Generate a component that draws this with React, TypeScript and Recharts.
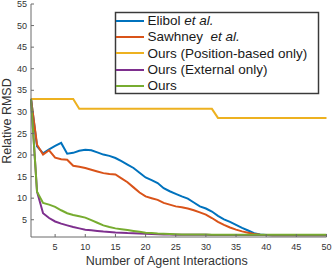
import React from 'react';
import { LineChart, Line, XAxis, YAxis, Legend, Customized } from 'recharts';

const interactions = [
  1, 2, 3, 4, 5, 6, 7, 8, 9, 10, 11, 12, 13, 14, 15, 16, 17, 18, 19, 20, 21, 22, 23, 24, 25,
  26, 27, 28, 29, 30, 31, 32, 33, 34, 35, 36, 37, 38, 39, 40, 41, 42, 43, 44, 45, 46, 47, 48, 49, 50,
];

const elibol = [
  33, 22, 20.4, 21.3, 22.1, 22.8, 20.3, 20.5, 21, 21.2, 21.1, 20.6, 20.1, 19.8, 19.3, 18.6, 17.8, 17.0, 15.9, 14.8,
  14.2, 13.5, 12.3, 11.6, 11.0, 10.4, 9.9, 9.0, 8.1, 7.6, 6.9, 5.9, 5.1, 4.5, 3.8, 3.1, 2.5, 1.9, 1.6, 1.45,
  1.4, 1.4, 1.4, 1.4, 1.4, 1.4, 1.4, 1.4, 1.4, 1.4,
];

const sawhney = [
  33, 22.4, 20.1, 21.1, 19.4, 19.0, 18.9, 17.5, 17.3, 17.0, 16.6, 16.2, 15.8, 15.6, 15.5, 14.6, 13.7, 12.5, 11.3, 10.4,
  10.0, 9.6, 8.9, 8.5, 8.1, 7.9, 7.6, 7.2, 6.7, 6.2, 5.4, 4.5, 3.8, 3.2, 2.7, 2.3, 2.0, 1.7, 1.5, 1.45,
  1.4, 1.4, 1.4, 1.4, 1.4, 1.4, 1.4, 1.4, 1.4, 1.4,
];

const positionOnly = [
  33, 33, 33, 33, 33, 33, 33, 33, 30.7, 30.7, 30.7, 30.7, 30.7, 30.7, 30.7, 30.7, 30.7, 30.7, 30.7, 30.7,
  30.7, 30.7, 30.7, 30.7, 30.7, 30.7, 30.7, 30.7, 30.7, 30.7, 30.7, 28.6, 28.6, 28.6, 28.6, 28.6, 28.6, 28.6, 28.6, 28.6,
  28.6, 28.6, 28.6, 28.6, 28.6, 28.6, 28.6, 28.6, 28.6, 28.6,
];

const externalOnly = [
  33, 11.5, 6.5, 5.4, 4.6, 4.1, 3.7, 3.3, 3.0, 2.7, 2.55, 2.4, 2.25, 2.15, 2.05, 2.0, 1.9, 1.85, 1.8, 1.75,
  1.7, 1.65, 1.6, 1.6, 1.55, 1.5, 1.5, 1.5, 1.5, 1.5, 1.45, 1.45, 1.45, 1.45, 1.45, 1.45, 1.45, 1.45, 1.45, 1.45,
  1.45, 1.45, 1.45, 1.45, 1.45, 1.45, 1.45, 1.45, 1.45, 1.45,
];

const ours = [
  33, 11.5, 8.9, 8.5, 8.0, 7.2, 6.5, 6.1, 5.8, 5.5, 4.9, 4.3, 3.7, 3.3, 3.0, 2.8, 2.6, 2.4, 2.2, 2.0,
  1.9, 1.8, 1.75, 1.7, 1.65, 1.6, 1.6, 1.6, 1.6, 1.6, 1.5, 1.5, 1.5, 1.5, 1.5, 1.5, 1.5, 1.5, 1.5, 1.5,
  1.5, 1.5, 1.5, 1.5, 1.5, 1.5, 1.5, 1.5, 1.5, 1.5,
];

const xTicks = [5, 10, 15, 20, 25, 30, 35, 40, 45, 50];
const yTicks = [5, 10, 15, 20, 25, 30, 35, 40, 45, 50, 55];

const seriesKeys = ['elibol', 'sawhney', 'positionOnly', 'externalOnly', 'ours'];
const seriesNames = ['Elibol et al.', 'Sawhney  et al.', 'Ours (Position-based only)', 'Ours (External only)', 'Ours'];
const seriesColors = ['#0072BD', '#D95319', '#EDB120', '#7E2F8E', '#77AC30'];

const data = interactions.map((x, i) => ({
  x,
  elibol: elibol[i],
  sawhney: sawhney[i],
  positionOnly: positionOnly[i],
  externalOnly: externalOnly[i],
  ours: ours[i],
}));

const FONT = '"Liberation Sans", Arial, Helvetica, sans-serif';
const AX = '#6a6a6a';
const TXT = '#333333';

const LEG_X = 115;
const LEG_Y = 12;
const LEG_W = 204;
const LEG_H = 82;

const BottomTick = (p: any) => (
  <g>
    <line x1={p.x} x2={p.x} y1={p.y} y2={p.y - 3} stroke={AX} />
    <text x={p.x} y={p.y + 13} textAnchor="middle" fontSize={9} fill={TXT} fontFamily={FONT}>
      {p.payload.value}
    </text>
  </g>
);

const TopTick = (p: any) => (
  <line x1={p.x} x2={p.x} y1={p.y} y2={p.y + 3} stroke={AX} />
);

const LeftTick = (p: any) => (
  <g>
    <line x1={p.x} x2={p.x + 3} y1={p.y} y2={p.y} stroke={AX} />
    <text x={p.x - 4} y={p.y + 3.2} textAnchor="end" fontSize={9} fill={TXT} fontFamily={FONT}>
      {p.payload.value}
    </text>
  </g>
);

const RightTick = (p: any) => (
  <line x1={p.x} x2={p.x - 3} y1={p.y} y2={p.y} stroke={AX} />
);

const renderName = (name: string) => {
  if (name.endsWith('et al.')) {
    return (
      <>
        {name.slice(0, name.length - 6)}
        <i>et al.</i>
      </>
    );
  }
  return name;
};

const renderLegend = () => (
  <div
    style={{
      position: 'relative',
      width: LEG_W,
      height: LEG_H,
      boxSizing: 'border-box',
      border: '1.5px solid #3a3a3a',
      fontFamily: FONT,
      fontSize: 13.5,
      color: '#1a1a1a',
    }}
  >
    <div style={{ position: 'absolute', left: -1.5, top: -0.5 }}>
      {seriesNames.map((name, i) => (
        <div key={name} style={{ display: 'flex', alignItems: 'center', height: 16.3, whiteSpace: 'pre' }}>
          <svg width={33} height={4} style={{ flex: 'none' }}>
            <line x1={1} x2={29} y1={2} y2={2} stroke={seriesColors[i]} strokeWidth={2} />
          </svg>
          <span>{renderName(name)}</span>
        </div>
      ))}
    </div>
  </div>
);

const LegendBox = () => (
  <rect x={LEG_X + 0.5} y={LEG_Y + 0.5} width={LEG_W - 1} height={LEG_H - 1} fill="#ffffff" stroke="#444444" strokeWidth={1.5} />
);

const XLabel = (p: any) => {
  const vb = p.viewBox;
  return (
    <text x={vb.x + vb.width / 2 - 12} y={vb.y + 28} textAnchor="middle" fontSize={12.5} fill={TXT} fontFamily={FONT}>
      Number of Agent Interactions
    </text>
  );
};

const YLabel = () => (
  <text transform="translate(10.5,121) rotate(-90)" textAnchor="middle" fontSize={12.5} fill={TXT} fontFamily={FONT}>
    Relative RMSD
  </text>
);

export default function App() {
  return (
    <div style={{ position: 'absolute', left: 0, top: 0, background: '#fff' }}>
      <LineChart width={332} height={269} data={data} margin={{ top: 4, right: 5.5, left: 0, bottom: 0 }}>
        <XAxis
          dataKey="x"
          type="number"
          domain={[1, 50]}
          ticks={xTicks}
          height={32}
          tickSize={0}
          tickMargin={0}
          tickLine={false}
          axisLine={{ stroke: AX }}
          tick={(p: any) => <BottomTick {...p} />}
          label={{ content: (p: any) => <XLabel {...p} /> }}
          interval={0}
        />
        <XAxis
          xAxisId="top"
          orientation="top"
          dataKey="x"
          type="number"
          domain={[1, 50]}
          ticks={xTicks}
          height={0}
          tickSize={0}
          tickMargin={0}
          tickLine={false}
          axisLine={{ stroke: AX }}
          tick={(p: any) => <TopTick {...p} />}
          interval={0}
        />
        <YAxis
          type="number"
          domain={[1, 55]}
          ticks={yTicks}
          width={31}
          tickSize={0}
          tickMargin={0}
          tickLine={false}
          axisLine={{ stroke: AX }}
          tick={(p: any) => <LeftTick {...p} />}
          label={{ content: () => <YLabel /> }}
          interval={0}
          allowDataOverflow
        />
        <YAxis
          yAxisId="right"
          orientation="right"
          type="number"
          domain={[1, 55]}
          ticks={yTicks}
          width={0}
          tickSize={0}
          tickMargin={0}
          tickLine={false}
          axisLine={{ stroke: AX }}
          tick={(p: any) => <RightTick {...p} />}
          interval={0}
          allowDataOverflow
        />
        <Legend
          layout="horizontal"
          verticalAlign="middle"
          align="center"
          content={renderLegend}
          wrapperStyle={{ position: 'absolute', left: LEG_X, top: LEG_Y, width: LEG_W, height: LEG_H }}
        />
        {seriesKeys.map((k, i) => (
          <Line
            key={k}
            dataKey={k}
            name={seriesNames[i]}
            type="linear"
            stroke={seriesColors[i]}
            strokeWidth={2}
            dot={false}
            activeDot={false}
            isAnimationActive={false}
          />
        ))}
        <Customized component={LegendBox} />
      </LineChart>
    </div>
  );
}
